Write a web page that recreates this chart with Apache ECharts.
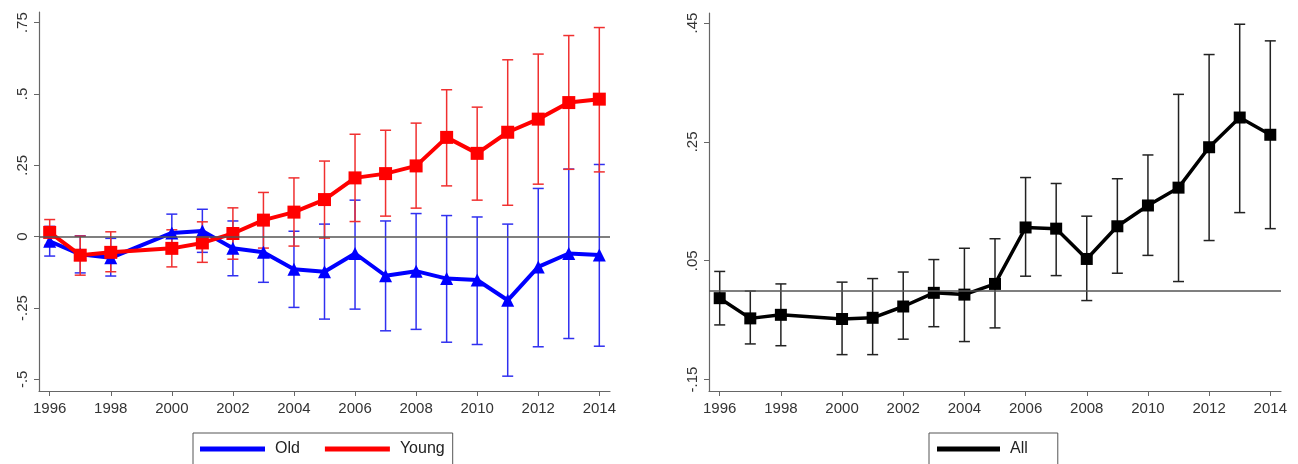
<!DOCTYPE html>
<html>
<head>
<meta charset="utf-8">
<script src="https://cdn.jsdelivr.net/npm/echarts@6/dist/echarts.min.js"></script>
<style>
  html, body { margin: 0; padding: 0; background: #fff; }
  #grafico { width: 1298px; height: 464px; }
</style>
</head>
<body>
<div id="grafico"></div>
<script>
// years with data (1999 missing)
const anios = [1996, 1997, 1998, 2000, 2001, 2002, 2003, 2004, 2005, 2006, 2007, 2008, 2009, 2010, 2011, 2012, 2013, 2014]
const etiquetasAnios = [1996, 1998, 2000, 2002, 2004, 2006, 2008, 2010, 2012, 2014]

// left panel: Young
const jovenValor = [0.015, -0.065, -0.055, -0.041, -0.022, 0.011, 0.058, 0.086, 0.130, 0.206, 0.221, 0.248, 0.348, 0.292, 0.366, 0.412, 0.470, 0.482]
const jovenBajo  = [-0.030, -0.135, -0.123, -0.106, -0.090, -0.079, -0.040, -0.033, -0.005, 0.053, 0.072, 0.100, 0.178, 0.128, 0.110, 0.184, 0.236, 0.227]
const jovenAlto  = [0.060, 0.002, 0.017, 0.024, 0.052, 0.101, 0.155, 0.206, 0.265, 0.359, 0.373, 0.398, 0.515, 0.454, 0.620, 0.640, 0.705, 0.733]

// left panel: Old
const viejoValor = [-0.016, -0.062, -0.074, 0.013, 0.020, -0.041, -0.055, -0.114, -0.123, -0.059, -0.137, -0.121, -0.147, -0.152, -0.223, -0.106, -0.059, -0.064]
const viejoBajo  = [-0.068, -0.127, -0.138, -0.053, -0.055, -0.137, -0.160, -0.248, -0.289, -0.254, -0.330, -0.325, -0.370, -0.378, -0.489, -0.386, -0.357, -0.384]
const viejoAlto  = [0.036, 0.003, -0.006, 0.079, 0.096, 0.055, 0.050, 0.019, 0.044, 0.128, 0.055, 0.081, 0.074, 0.069, 0.044, 0.169, 0.237, 0.253]

// right panel: All
const todosValor = [-0.013, -0.047, -0.041, -0.048, -0.046, -0.027, -0.004, -0.007, 0.011, 0.106, 0.104, 0.053, 0.108, 0.143, 0.173, 0.241, 0.291, 0.262]
const todosBajo  = [-0.058, -0.090, -0.093, -0.108, -0.108, -0.082, -0.061, -0.086, -0.063, 0.024, 0.025, -0.017, 0.029, 0.059, 0.015, 0.084, 0.131, 0.104]
const todosAlto  = [0.032, -0.001, 0.011, 0.014, 0.020, 0.031, 0.052, 0.071, 0.087, 0.190, 0.180, 0.125, 0.188, 0.228, 0.330, 0.397, 0.448, 0.420]

const ticksIzq = [-0.5, -0.25, 0, 0.25, 0.5, 0.75]
const etiquetasIzq = ['-.5', '-.25', '0', '.25', '.5', '.75']
const ticksDer = [-0.15, 0.05, 0.25, 0.45]
const etiquetasDer = ['-.15', '.05', '.25', '.45']

const fuente = '"Liberation Sans", Arial, sans-serif'

const puntos = (valores) => anios.map((a, i) => [a, valores[i]])
const intervalos = (bajo, alto) => anios.map((a, i) => [a, bajo[i], alto[i]])

const barraError = (color, ancho) => (params, api) => {
  const x = api.value(0)
  const arriba = api.coord([x, api.value(2)])
  const abajo = api.coord([x, api.value(1)])
  const estilo = { stroke: color, lineWidth: 1.5 }
  return {
    type: 'group',
    children: [
      { type: 'line', shape: { x1: arriba[0], y1: arriba[1], x2: abajo[0], y2: abajo[1] }, style: estilo },
      { type: 'line', shape: { x1: arriba[0] - ancho, y1: arriba[1], x2: arriba[0] + ancho, y2: arriba[1] }, style: estilo },
      { type: 'line', shape: { x1: abajo[0] - ancho, y1: abajo[1], x2: abajo[0] + ancho, y2: abajo[1] }, style: estilo }
    ]
  }
}

const ejeX = (indice) => ({
  type: 'value',
  gridIndex: indice,
  min: 1995.65,
  max: 2014.35,
  axisLine: { onZero: false, lineStyle: { color: '#666', width: 1.2 } },
  axisTick: { customValues: etiquetasAnios, length: 5, lineStyle: { color: '#666' } },
  axisLabel: {
    customValues: etiquetasAnios,
    margin: 10,
    fontSize: 15,
    color: '#333',
    fontFamily: fuente,
    formatter: v => String(v)
  },
  splitLine: { show: false }
})

const ejeY = (indice, min, max, ticks, etiquetas) => ({
  type: 'value',
  gridIndex: indice,
  min: min,
  max: max,
  axisLine: { show: true, onZero: false, lineStyle: { color: '#666', width: 1.2 } },
  axisTick: { show: true, customValues: ticks, length: 5, lineStyle: { color: '#666' } },
  axisLabel: {
    customValues: ticks,
    rotate: 90,
    margin: 9,
    fontSize: 15,
    color: '#333',
    fontFamily: fuente,
    formatter: v => etiquetas[ticks.findIndex(t => Math.abs(t - v) < 1e-6)]
  },
  splitLine: { show: false }
})

const lineaCero = {
  silent: true,
  symbol: ['none', 'none'],
  label: { show: false },
  lineStyle: { color: '#555', width: 1.5, type: 'solid' },
  data: [{ yAxis: 0 }]
}

const miGrafico = echarts.init(document.getElementById('grafico'))

const opciones = {
  animation: false,
  backgroundColor: '#fff',
  grid: [
    { left: 39, top: 12, width: 571, bottom: 73 },
    { left: 709, top: 13, width: 572, bottom: 73 }
  ],
  xAxis: [ejeX(0), ejeX(1)],
  yAxis: [
    ejeY(0, -0.541, 0.7875, ticksIzq, etiquetasIzq),
    ejeY(1, -0.1692, 0.4669, ticksDer, etiquetasDer)
  ],
  legend: [
    {
      left: 193,
      top: 433,
      data: ['Old', 'Young'],
      icon: 'rect',
      itemWidth: 65,
      itemHeight: 5,
      itemGap: 25,
      padding: [8, 8, 8, 7],
      borderColor: '#555',
      borderWidth: 1,
      textStyle: { fontSize: 16, color: '#222', fontFamily: fuente, padding: [0, 0, 0, 5] }
    },
    {
      left: 929,
      top: 433,
      data: ['All'],
      icon: 'rect',
      itemWidth: 63,
      itemHeight: 5,
      padding: [8, 30, 8, 8],
      borderColor: '#555',
      borderWidth: 1,
      textStyle: { fontSize: 16, color: '#222', fontFamily: fuente, padding: [0, 0, 0, 5] }
    }
  ],
  series: [
    {
      name: 'Old CI',
      type: 'custom',
      xAxisIndex: 0,
      yAxisIndex: 0,
      renderItem: barraError('#3030f0', 5.5),
      encode: { x: 0, y: [1, 2] },
      data: intervalos(viejoBajo, viejoAlto),
      z: 2
    },
    {
      name: 'Young CI',
      type: 'custom',
      xAxisIndex: 0,
      yAxisIndex: 0,
      renderItem: barraError('#f03030', 5.5),
      encode: { x: 0, y: [1, 2] },
      data: intervalos(jovenBajo, jovenAlto),
      z: 2
    },
    {
      name: 'Old',
      type: 'line',
      xAxisIndex: 0,
      yAxisIndex: 0,
      data: puntos(viejoValor),
      symbol: 'triangle',
      symbolSize: 13,
      lineStyle: { color: '#0000ff', width: 4 },
      itemStyle: { color: '#0000ff' },
      markLine: lineaCero,
      z: 3
    },
    {
      name: 'Young',
      type: 'line',
      xAxisIndex: 0,
      yAxisIndex: 0,
      data: puntos(jovenValor),
      symbol: 'rect',
      symbolSize: 13,
      lineStyle: { color: '#ff0000', width: 4 },
      itemStyle: { color: '#ff0000' },
      z: 4
    },
    {
      name: 'All CI',
      type: 'custom',
      xAxisIndex: 1,
      yAxisIndex: 1,
      renderItem: barraError('#222', 5.5),
      encode: { x: 0, y: [1, 2] },
      data: intervalos(todosBajo, todosAlto),
      z: 2
    },
    {
      name: 'All',
      type: 'line',
      xAxisIndex: 1,
      yAxisIndex: 1,
      data: puntos(todosValor),
      symbol: 'rect',
      symbolSize: 12,
      lineStyle: { color: '#000', width: 3.5 },
      itemStyle: { color: '#000' },
      markLine: lineaCero,
      z: 3
    }
  ]
}

miGrafico.setOption(opciones)
window.addEventListener('resize', () => miGrafico.resize())
</script>
</body>
</html>
